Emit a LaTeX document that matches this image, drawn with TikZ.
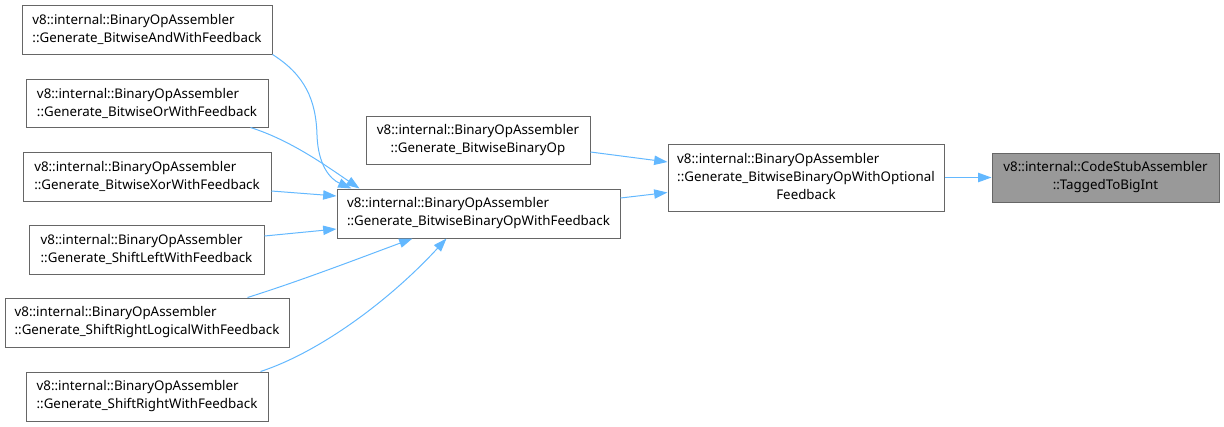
\documentclass[tikz,border=0pt]{standalone}
\usepackage{fontspec}
\setmainfont{Noto Sans}
\usetikzlibrary{arrows.meta,calc}
\definecolor{edgeblue}{HTML}{63B8FF}
\definecolor{boxline}{HTML}{666666}
\definecolor{boxgray}{HTML}{999999}
\begin{document}
\begin{tikzpicture}[x=0.75pt,y=-0.75pt,
  box/.style={draw=boxline, line width=0.75pt, fill=white, inner sep=0pt,
    font=\fontsize{10pt}{13.5pt}\selectfont, text=black},
  leftbox/.style={box, align=left},
  midbox/.style={box, align=center},
  focus/.style={box, align=center, fill=boxgray},
  call/.style={draw=edgeblue, line width=0.75pt,
    -{Triangle[length=10pt,width=7pt]}}]
\useasboundingbox (0,0) rectangle (1224,426);

% callers of the feedback variant
\node[leftbox, minimum width=187.5pt, minimum height=36.75pt] (N1) at (147,29.5)
  {v8::internal::BinaryOpAssembler\\::Generate\_BitwiseAndWithFeedback};
\node[leftbox, minimum width=181.5pt, minimum height=36pt] (N2) at (147,103)
  {v8::internal::BinaryOpAssembler\\::Generate\_BitwiseOrWithFeedback};
\node[leftbox, minimum width=186pt, minimum height=36.75pt] (N3) at (147,176.5)
  {v8::internal::BinaryOpAssembler\\::Generate\_BitwiseXorWithFeedback};
\node[leftbox, minimum width=176.25pt, minimum height=36.75pt] (N4) at (146.5,249.5)
  {v8::internal::BinaryOpAssembler\\::Generate\_ShiftLeftWithFeedback};
\node[leftbox, minimum width=213pt, minimum height=36.75pt] (N5) at (147,322.5)
  {v8::internal::BinaryOpAssembler\\::Generate\_ShiftRightLogicalWithFeedback};
\node[leftbox, minimum width=181.5pt, minimum height=36.75pt] (N6) at (147,396.5)
  {v8::internal::BinaryOpAssembler\\::Generate\_ShiftRightWithFeedback};

% middle column
\node[leftbox, minimum width=212.25pt, minimum height=36.75pt] (M1) at (478.5,213.5)
  {v8::internal::BinaryOpAssembler\\::Generate\_BitwiseBinaryOpWithFeedback};
\node[midbox, minimum width=168pt, minimum height=36pt] (M2) at (478,140)
  {v8::internal::BinaryOpAssembler\\::Generate\_BitwiseBinaryOp};

% optional-feedback helper (two left-set lines, last line centred) and the called function
\node[box, minimum width=207pt, minimum height=50.25pt] (R1) at (806,177.5)
  {\begin{tabular}{@{}l@{}}v8::internal::BinaryOpAssembler\\
   ::Generate\_BitwiseBinaryOpWithOptional\\
   \multicolumn{1}{@{}c@{}}{Feedback}\end{tabular}};
\node[focus, minimum width=170.25pt, minimum height=36.75pt] (T) at (1105.5,177.5)
  {v8::internal::CodeStubAssembler\\::TaggedToBigInt};

% call edges
\draw[call] (N1.south east) .. controls (305,75) and (316,100) .. (317,135)
  .. controls (318,165) and (330,179) .. ($(M1.north west)+(15,0)$);
\draw[call] ($(N2.south east)+(-18,0)$) .. controls (290,140) and (325,165) .. ($(M1.north west)+(23,0)$);
\draw[call] ($(N3.east)+(0,14.5)$) -- ($(M1.west)+(0,-17.5)$);
\draw[call] ($(N4.east)+(0,-13.5)$) -- ($(M1.west)+(0,15.5)$);
\draw[call] ($(N5.north east)+(-42,0)$) .. controls (300,281) and (360,258) .. ($(M1.south west)+(76,0)$);
\draw[call] ($(N6.north east)+(-8,0)$) .. controls (320,352) and (390,300) .. ($(M1.south west)+(110,0)$);
\draw[call] ($(M2.east)+(0,12)$) -- ($(R1.west)+(0,-15.5)$);
\draw[call] ($(M1.east)+(0,-15.5)$) -- ($(R1.west)+(0,15)$);
\draw[call] (R1.east) -- (T.west);
\end{tikzpicture}
\end{document}
